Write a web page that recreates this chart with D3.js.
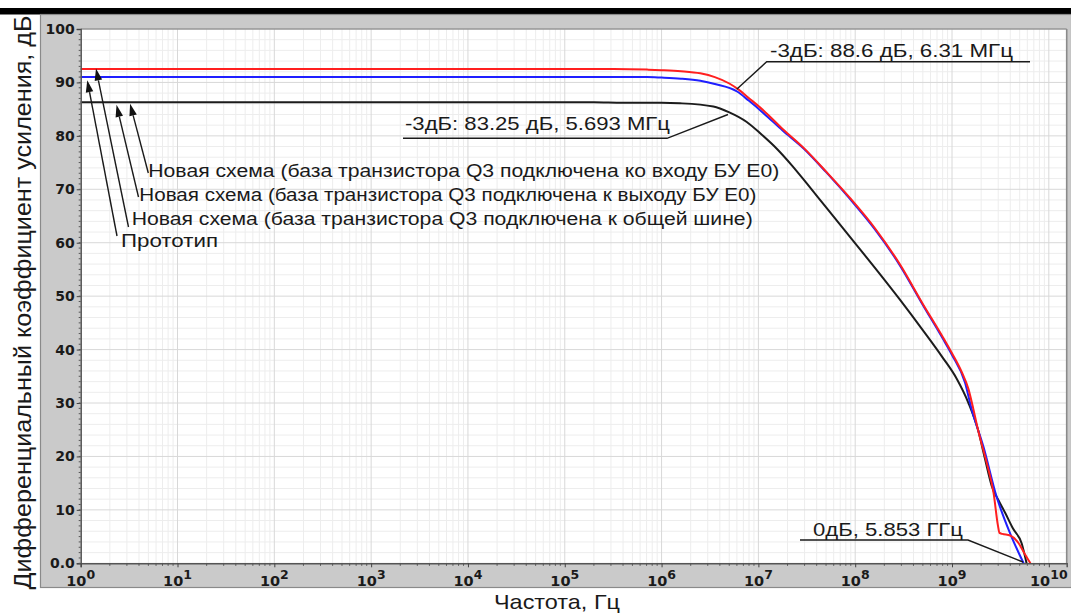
<!DOCTYPE html>
<html><head><meta charset="utf-8">
<script src="https://cdn.jsdelivr.net/npm/d3@7"></script>
<style>html,body{margin:0;padding:0;background:#fff;}svg{display:block;}</style>
</head><body>
<script>
// ---------- DATA ----------
const xDomain = [1, 1.53e10];
const yDomain = [0, 100];
const yTickValues = [0, 10, 20, 30, 40, 50, 60, 70, 80, 90, 100];
const yTickLabels = ["0.0", "10", "20", "30", "40", "50", "60", "70", "80", "90", "100"];
const xTickExponents = [0, 1, 2, 3, 4, 5, 6, 7, 8, 9, 10];

// log10(frequency, Hz) and gain (dB)
const redLogF  = [0, 5.5, 5.85, 6.0, 6.2, 6.4, 6.55, 6.7, 6.8, 6.9, 7.05, 7.25, 7.47, 7.7, 7.95, 8.2, 8.46, 8.7, 8.9, 9.0, 9.1, 9.17, 9.22, 9.27, 9.36, 9.43, 9.475, 9.49, 9.52, 9.6, 9.69, 9.75, 9.81];
const redGain  = [92.5, 92.5, 92.4, 92.3, 92.1, 91.7, 91.0, 89.8, 88.6, 87.1, 84.8, 81.3, 77.7, 73.3, 68.3, 62.8, 56.0, 48.5, 42.5, 39.3, 35.8, 32.6, 28.9, 24.9, 18.7, 13.1, 7.0, 5.7, 5.5, 5.2, 3.7, 1.8, 0];
const blueLogF = [0, 5.85, 6.0, 6.2, 6.4, 6.55, 6.78, 6.9, 7.05, 7.25, 7.47, 7.7, 7.95, 8.2, 8.46, 8.7, 8.9, 9.0, 9.135, 9.2, 9.325, 9.46, 9.6, 9.74];
const blueGain = [91.0, 91.0, 90.9, 90.7, 90.3, 89.7, 88.3, 86.6, 84.3, 81.0, 77.6, 73.2, 68.1, 62.6, 55.8, 48.3, 42.2, 39.0, 33.8, 29.0, 21.8, 12.5, 5.6, 0];
const blackLogF = [0, 5.3, 5.6, 6.0, 6.19, 6.535, 6.7, 6.88, 7.03, 7.19, 7.35, 7.5, 7.7, 7.95, 8.2, 8.46, 8.7, 8.9, 9.05, 9.17, 9.27, 9.34, 9.41, 9.48, 9.55, 9.63, 9.72, 9.77];
const blackGain = [86.3, 86.3, 86.2, 86.2, 86.1, 85.5, 84.4, 82.6, 80.3, 77.6, 74.4, 71.1, 66.6, 61.0, 55.4, 49.4, 43.6, 38.6, 34.5, 30.0, 24.9, 19.6, 14.5, 11.8, 9.4, 6.5, 3.7, 0];

const legendTexts = [
  "Новая схема (база транзистора Q3 подключена ко входу БУ E0)",
  "Новая схема (база транзистора Q3 подключена к выходу БУ E0)",
  "Новая схема (база транзистора Q3 подключена к общей шине)",
  "Прототип"
];
// arrow tips (log10 f, dB) for each legend line
const arrowTipLogF = [0.51, 0.37, 0.158, 0.068];
const arrowTipGain = [86.0, 85.8, 92.6, 90.4];

const annotTexts = ["-3дБ: 83.25 дБ, 5.693 МГц", "-3дБ: 88.6 дБ, 6.31 МГц", "0дБ, 5.853 ГГц"];
const xTitle = "Частота, Гц";
const yTitle = "Дифференциальный коэффициент усиления, дБ";

// ---------- LAYOUT ----------
const W = 1071, H = 613;
const L = 80.7, R = 1066.7, T = 29, B = 563.3;
const font = "'Liberation Sans', Arial, sans-serif";
const boldFont = "'DejaVu Sans', sans-serif";

const svg = d3.select("body").append("svg").attr("width", W).attr("height", H);
svg.append("rect").attr("width", W).attr("height", H).attr("fill", "#fff");
svg.append("rect").attr("x", 0).attr("y", 8).attr("width", W).attr("height", 6.5).attr("fill", "#000");
// grey panel
svg.append("rect").attr("x", 40.5).attr("y", 14.5).attr("width", W - 40).attr("height", 573)
  .attr("fill", "#cacaca").attr("stroke", "#8a8a8a").attr("stroke-width", 1.2);

const x = d3.scaleLog().domain(xDomain).range([L, R]);
const y = d3.scaleLinear().domain(yDomain).range([B, T]);

svg.append("rect").attr("x", L).attr("y", T).attr("width", R - L).attr("height", B - T).attr("fill", "#fff");

const grid = svg.append("g");
const minorX = [];
for (let e = 0; e <= 10; e++) for (let m = 2; m <= 9; m++) { const v = m * Math.pow(10, e); if (v < xDomain[1]) minorX.push(v); }
grid.selectAll(".mx").data(minorX).enter().append("line")
  .attr("x1", d => x(d)).attr("x2", d => x(d)).attr("y1", T).attr("y2", B)
  .attr("stroke", "#ededed").attr("stroke-width", 1);
const minorY = d3.range(2, 100, 2).filter(v => v % 10 !== 0);
grid.selectAll(".my").data(minorY).enter().append("line")
  .attr("x1", L).attr("x2", R).attr("y1", d => y(d)).attr("y2", d => y(d))
  .attr("stroke", "#ededed").attr("stroke-width", 1);
const majorX = xTickExponents.map(e => Math.pow(10, e));
grid.selectAll(".Mx").data(majorX).enter().append("line")
  .attr("x1", d => x(d)).attr("x2", d => x(d)).attr("y1", T).attr("y2", B)
  .attr("stroke", "#d8d8d8").attr("stroke-width", 1);
grid.selectAll(".My").data(yTickValues).enter().append("line")
  .attr("x1", L).attr("x2", R).attr("y1", d => y(d)).attr("y2", d => y(d))
  .attr("stroke", "#d8d8d8").attr("stroke-width", 1);

// ---------- CURVES ----------
const line = d3.line().x(d => x(Math.pow(10, d[0]))).y(d => y(d[1])).curve(d3.curveMonotoneX);
const series = [
  { f: blackLogF, g: blackGain, c: "#1c1c1c" },
  { f: blueLogF, g: blueGain, c: "#1f1fff" },
  { f: redLogF, g: redGain, c: "#ff1f1f" }
];
const curves = svg.append("g").attr("fill", "none");
series.forEach(s => {
  curves.append("path").datum(d3.zip(s.f, s.g)).attr("d", line)
    .attr("stroke", s.c).attr("stroke-width", 2).attr("stroke-linejoin", "round");
});

// ---------- AXES / BORDERS ----------
svg.append("line").attr("x1", L).attr("x2", R).attr("y1", T).attr("y2", T).attr("stroke", "#777").attr("stroke-width", 1.2);
svg.append("line").attr("x1", R).attr("x2", R).attr("y1", T).attr("y2", B).attr("stroke", "#8a8a8a").attr("stroke-width", 1.6);

const yAxis = d3.axisLeft(y).tickValues(yTickValues).tickFormat((d, i) => yTickLabels[i]).tickSize(4).tickPadding(2);
const gy = svg.append("g").attr("transform", `translate(${L},0)`).call(yAxis);
gy.select(".domain").attr("stroke", "#555").attr("stroke-width", 1.5);
gy.selectAll(".tick line").attr("stroke", "#444");
gy.selectAll("text").attr("font-family", boldFont).attr("font-weight", "bold").attr("font-size", 14).attr("fill", "#1a1a1a");
svg.append("g").selectAll("line").data(d3.range(0, 100, 1)).enter().append("line")
  .attr("x1", L - 2).attr("x2", L).attr("y1", d => y(d)).attr("y2", d => y(d))
  .attr("stroke", "#555").attr("stroke-width", 1);

const xAxis = d3.axisBottom(x).tickValues(majorX).tickFormat("").tickSize(4);
const gx = svg.append("g").attr("transform", `translate(0,${B})`).call(xAxis);
gx.select(".domain").attr("stroke", "#555").attr("stroke-width", 1.5);
gx.selectAll(".tick line").attr("stroke", "#444");
svg.append("g").selectAll("line").data(minorX).enter().append("line")
  .attr("x1", d => x(d)).attr("x2", d => x(d)).attr("y1", B).attr("y2", B + 2.5)
  .attr("stroke", "#555").attr("stroke-width", 1);
const xl = svg.append("g").selectAll("text").data(xTickExponents).enter().append("text")
  .attr("x", d => x(Math.pow(10, d))).attr("y", 586).attr("text-anchor", "middle")
  .attr("font-family", boldFont).attr("font-weight", "bold").attr("fill", "#1a1a1a").attr("font-size", 14.5);
xl.append("tspan").text("10");
xl.append("tspan").attr("dy", -6.8).attr("font-size", 12.5).text(d => d);

// ---------- TITLES ----------
svg.append("text").attr("x", 557).attr("y", 609).attr("text-anchor", "middle")
  .attr("font-family", font).attr("font-size", 21).attr("fill", "#1a1a1a")
  .attr("textLength", 126).attr("lengthAdjust", "spacingAndGlyphs").text(xTitle);
svg.append("text").attr("transform", "translate(31,302.5) rotate(-90)").attr("text-anchor", "middle")
  .attr("font-family", font).attr("font-size", 24.5).attr("fill", "#1a1a1a")
  .attr("textLength", 574).attr("lengthAdjust", "spacingAndGlyphs").text(yTitle);

// ---------- LEGEND ARROWS ----------
const legendX = [148.3, 139.3, 131.7, 121];
const legendBase = [176.5, 201, 224.5, 246.5];
const legendLen = [631, 617, 621, 97];
const arrowEnd = [[148.3, 173], [138.5, 197], [128.5, 227], [117, 236]];
const ann = svg.append("g");
legendTexts.forEach((t, i) => {
  ann.append("text").attr("x", legendX[i]).attr("y", legendBase[i])
    .attr("font-family", font).attr("font-size", 17.5).attr("fill", "#1a1a1a")
    .attr("textLength", legendLen[i]).attr("lengthAdjust", "spacingAndGlyphs").text(t);
  const tx = x(Math.pow(10, arrowTipLogF[i])), ty = y(arrowTipGain[i]);
  const sx = arrowEnd[i][0], sy = arrowEnd[i][1];
  const dx = tx - sx, dy = ty - sy, len = Math.hypot(dx, dy);
  const ux = dx / len, uy = dy / len;
  const hl = 12, hw = 3.8;
  const bx = tx - ux * hl, by = ty - uy * hl;
  ann.append("line").attr("x1", sx).attr("y1", sy).attr("x2", bx).attr("y2", by)
    .attr("stroke", "#1a1a1a").attr("stroke-width", 1.4);
  ann.append("path")
    .attr("d", `M${tx},${ty}L${bx - uy * hw},${by + ux * hw}L${bx + uy * hw},${by - ux * hw}Z`)
    .attr("fill", "#111");
});

// ---------- -3dB / 0dB ANNOTATIONS ----------
const annX = [405, 770, 813];
const annBase = [130, 56.5, 535.5];
const annLen = [265, 243, 150];
const annLeader = [
  [[403, 138.3], [667, 138.3], [728, 114.5]],
  [[1030, 61.7], [766.7, 61.7], [736.7, 89.3]],
  [[800, 540], [968, 540], [1023, 562]]
];
annotTexts.forEach((t, i) => {
  ann.append("text").attr("x", annX[i]).attr("y", annBase[i])
    .attr("font-family", font).attr("font-size", 18.5).attr("fill", "#1a1a1a")
    .attr("textLength", annLen[i]).attr("lengthAdjust", "spacingAndGlyphs").text(t);
  ann.append("path").attr("d", d3.line()(annLeader[i])).attr("fill", "none")
    .attr("stroke", "#1a1a1a").attr("stroke-width", 1.4);
});
</script>
</body></html>
